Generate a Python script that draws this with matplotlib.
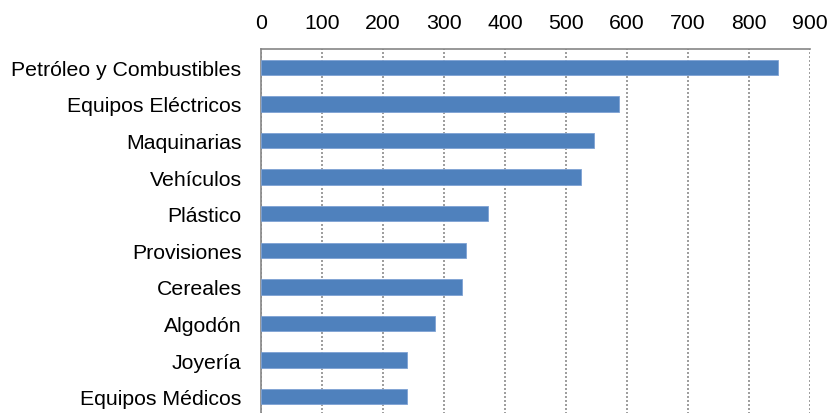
import matplotlib.pyplot as plt

categories = ['Petróleo y Combustibles', 'Equipos Eléctricos', 'Maquinarias',
              'Vehículos', 'Plástico', 'Provisiones', 'Cereales', 'Algodón',
              'Joyería', 'Equipos Médicos']
values = [848, 587, 546, 525, 372, 336, 330, 285, 239, 239]
ticks = [0, 100, 200, 300, 400, 500, 600, 700, 800, 900]

plt.rcParams['font.family'] = ['Liberation Sans', 'DejaVu Sans']

fig = plt.figure(figsize=(8.27, 4.14), dpi=100)
ax = fig.add_axes([261 / 827, -2 / 414, 549 / 827, 366 / 414])

ypos = list(range(len(categories)))
ax.barh(ypos, values, height=0.42, color='#4F81BD', edgecolor='#7EA2D4', linewidth=0.6, zorder=3)

ax.set_xlim(0, 900)
ax.set_ylim(len(categories) - 0.5, -0.5)
ax.set_xticks(ticks)
ax.set_yticks(ypos)
ax.set_yticklabels(categories, fontsize=15.3)
ax.xaxis.tick_top()
ax.tick_params(axis='x', length=0, labelsize=15.3, pad=12)
ax.tick_params(axis='y', length=0, pad=14)

ax.grid(axis='x', color='#8c8c8c', linestyle=(0, (1.2, 1.2)), linewidth=1.2, zorder=0)
for s in ['right', 'bottom']:
    ax.spines[s].set_visible(False)
for s in ['left', 'top']:
    ax.spines[s].set_color('#868686')
    ax.spines[s].set_linewidth(1.2)

fig.savefig('out.png', dpi=100)
